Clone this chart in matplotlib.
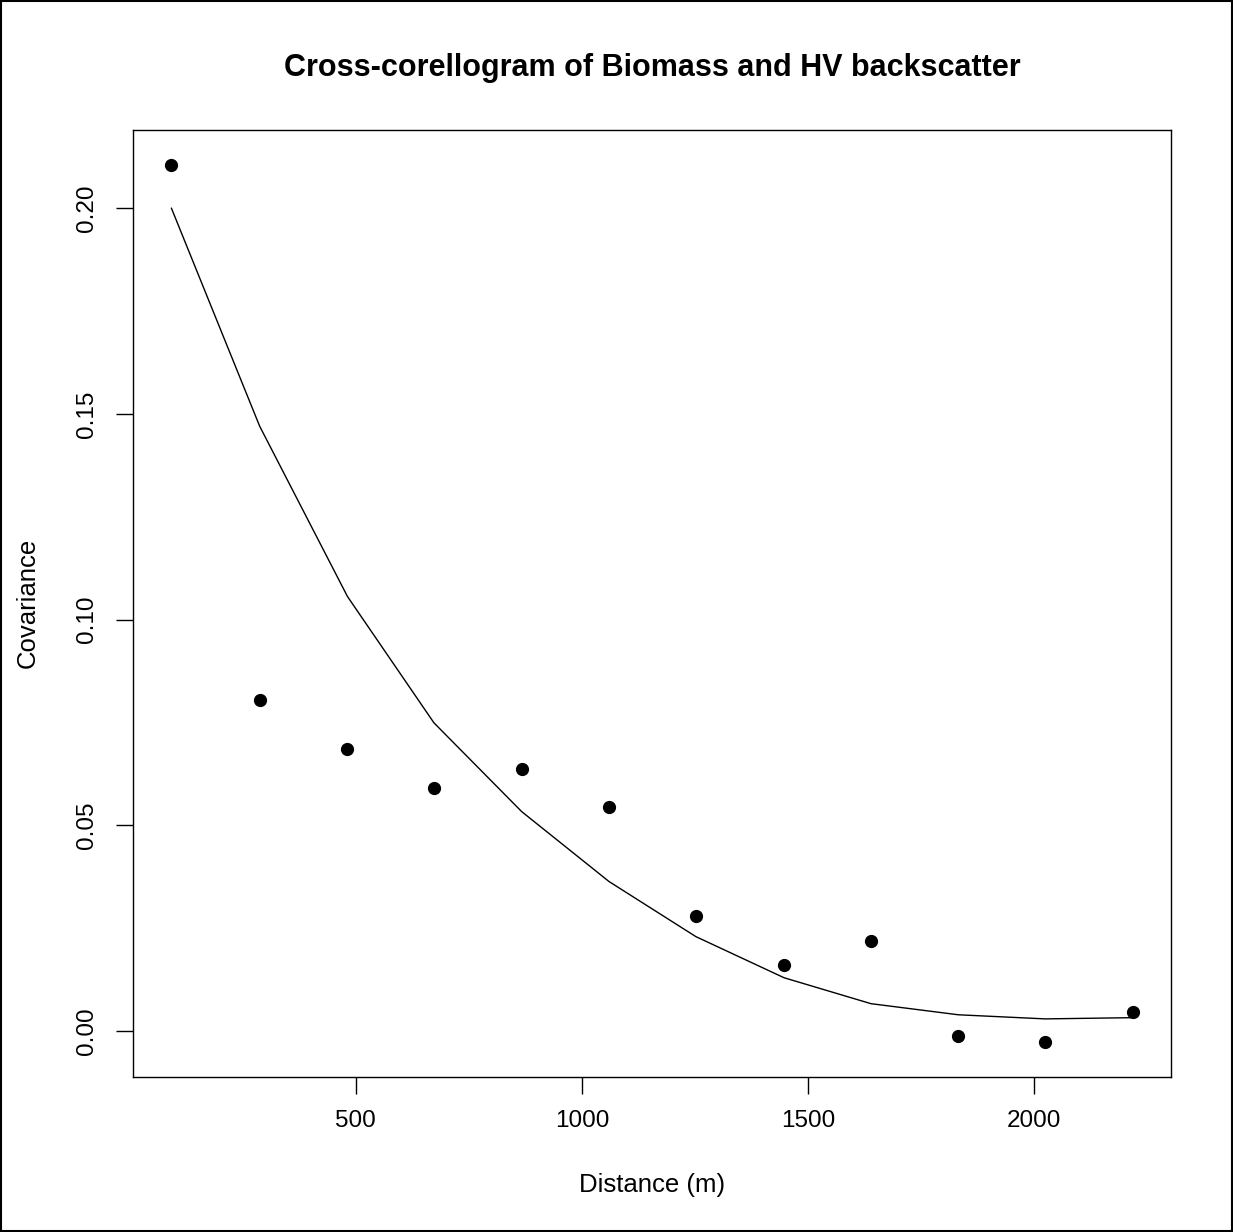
import numpy as np
import matplotlib
matplotlib.use('Agg')
import matplotlib.pyplot as plt
from matplotlib.patches import Rectangle

### Cross-correlogram of biomass vs HV backscatter, R base-graphics look.

distance = [93, 288, 482, 673, 867, 1060, 1252, 1447, 1639, 1832, 2024, 2217]
cov_empirical = [0.2105, 0.0805, 0.0686, 0.0591, 0.0637, 0.0543,
                 0.0280, 0.0161, 0.0219, -0.0012, -0.0027, 0.0046]
cov_model = [0.2000, 0.1470, 0.1056, 0.0749, 0.0533, 0.0363,
             0.0229, 0.0129, 0.0066, 0.0039, 0.0029, 0.0032]
xticks = [500, 1000, 1500, 2000]
yticks = [0.00, 0.05, 0.10, 0.15, 0.20]

plt.rcParams['font.family'] = ['Liberation Sans', 'DejaVu Sans']

W, H = 1233, 1232
fig = plt.figure(figsize=(W / 100, H / 100), dpi=100)
ax = fig.add_axes([133 / W, 1 - 1077 / H, (1171 - 133) / W, (1077 - 130) / H])

ax.plot(distance, cov_empirical, 'o', color='black', markersize=8.5)
ax.plot(distance, cov_model, '-', color='black', linewidth=1.0)

# R pads the data range by 4 percent
xr = max(distance) - min(distance)
ax.set_xlim(min(distance) - 0.04 * xr, max(distance) + 0.04 * xr)
ylo = min(cov_empirical + cov_model)
yhi = max(cov_empirical + cov_model)
yr = yhi - ylo
ax.set_ylim(ylo - 0.04 * yr, yhi + 0.04 * yr)

ax.set_xticks(xticks)
ax.set_xticklabels([str(t) for t in xticks])
ax.set_yticks(yticks)
ax.set_yticklabels(['%.2f' % t for t in yticks], rotation=90, va='center')
ax.tick_params(axis='both', direction='out', length=12, width=1.0,
               labelsize=17.5, color='black')
ax.tick_params(axis='x', pad=12)
ax.tick_params(axis='y', pad=13)
for sp in ax.spines.values():
    sp.set_linewidth(1.0)
    sp.set_color('black')

fig.text(652 / W, 1 - 68 / H, 'Cross-corellogram of Biomass and HV backscatter',
         ha='center', va='center', fontsize=22, fontweight='bold')
fig.text(652 / W, 1 - 1185 / H, 'Distance (m)', ha='center', va='center', fontsize=18.5)
fig.text(28 / W, 1 - 603 / H, 'Covariance', ha='center', va='center',
         rotation=90, fontsize=18.5)

# outer frame round the whole device
fig.patches.append(Rectangle((0.001, 0.001), 0.998, 0.998, transform=fig.transFigure,
                             fill=False, edgecolor='black', linewidth=1.5))

fig.savefig('out.png', dpi=100, facecolor='white')
